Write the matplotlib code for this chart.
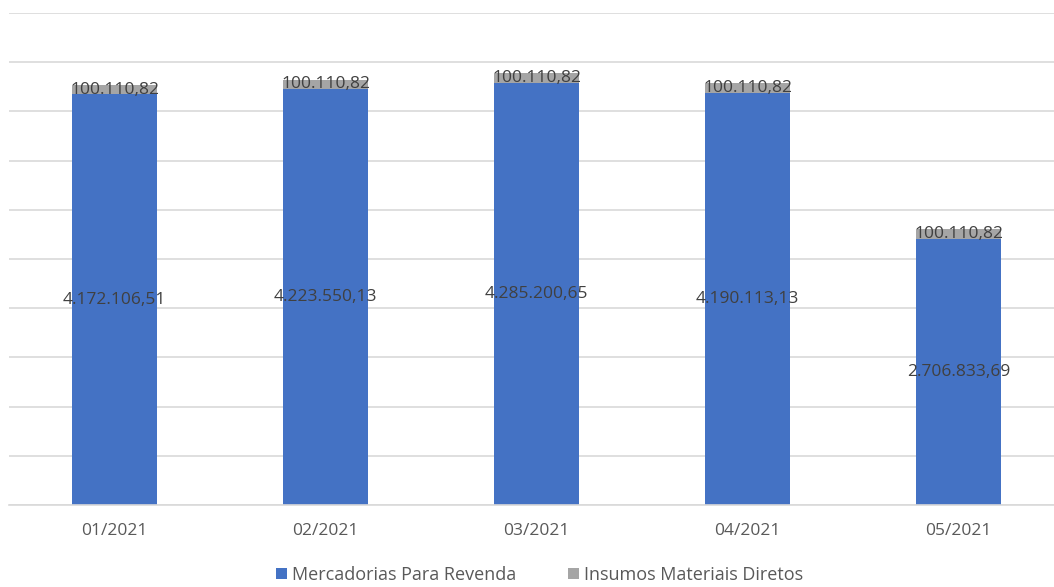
import matplotlib.pyplot as plt
import numpy as np

plt.rcParams['font.family'] = ['Open Sans', 'DejaVu Sans']

months = ['01/2021', '02/2021', '03/2021', '04/2021', '05/2021']
mercadorias = [4172106.51, 4223550.13, 4285200.65, 4190113.13, 2706833.69]
insumos = [100110.82, 100110.82, 100110.82, 100110.82, 100110.82]

BLUE = '#4472c4'
GREY = '#a5a5a5'
TEXT = '#404040'


def fmt_br(v):
    # brazilian number format: 1.234.567,89
    s = f'{v:,.2f}'
    return s.replace(',', 'X').replace('.', ',').replace('X', '.')


fig = plt.figure(figsize=(10.54, 5.87), dpi=100)
ax = fig.add_axes([9 / 1054, 82 / 587, 1055 / 1054, 492 / 587])

x = np.arange(len(months))
merc = np.array(mercadorias)
ins = np.array(insumos)
b1 = ax.bar(x, merc, width=0.4, color=BLUE, label='Mercadorias Para Revenda', zorder=2)
b2 = ax.bar(x, ins, width=0.4, bottom=merc, color=GREY, label='Insumos Materiais Diretos', zorder=2)

for i in range(len(x)):
    ax.text(x[i], merc[i] / 2, fmt_br(merc[i]), ha='center', va='center',
            fontsize=12.5, color=TEXT, zorder=3)
    ax.text(x[i], merc[i] + ins[i] / 2, fmt_br(ins[i]), ha='center', va='center',
            fontsize=12.5, color=TEXT, zorder=3)

ax.set_xlim(-0.5, 4.5)
ax.set_ylim(0, 5000000)
ax.set_yticks(np.arange(0, 5000001, 500000))
ax.yaxis.grid(True, color='#d9d9d9', linewidth=1.2, zorder=0)
ax.set_yticklabels([])
ax.tick_params(axis='y', length=0)
ax.set_xticks(x)
ax.set_xticklabels(months, fontsize=12.5, color='#595959')
ax.tick_params(axis='x', length=0, pad=13)
for side in ['top', 'right', 'left']:
    ax.spines[side].set_visible(False)
ax.spines['bottom'].set_color('#d9d9d9')
ax.spines['bottom'].set_linewidth(1.2)

fig.legend(handles=[b1, b2], loc='lower center', bbox_to_anchor=(0.512, -0.022), ncol=2,
           frameon=False, fontsize=13, handlelength=0.6, handleheight=0.6,
           handletextpad=0.25, columnspacing=2.9, labelcolor='#595959')

plt.savefig('out.png', dpi=100)
